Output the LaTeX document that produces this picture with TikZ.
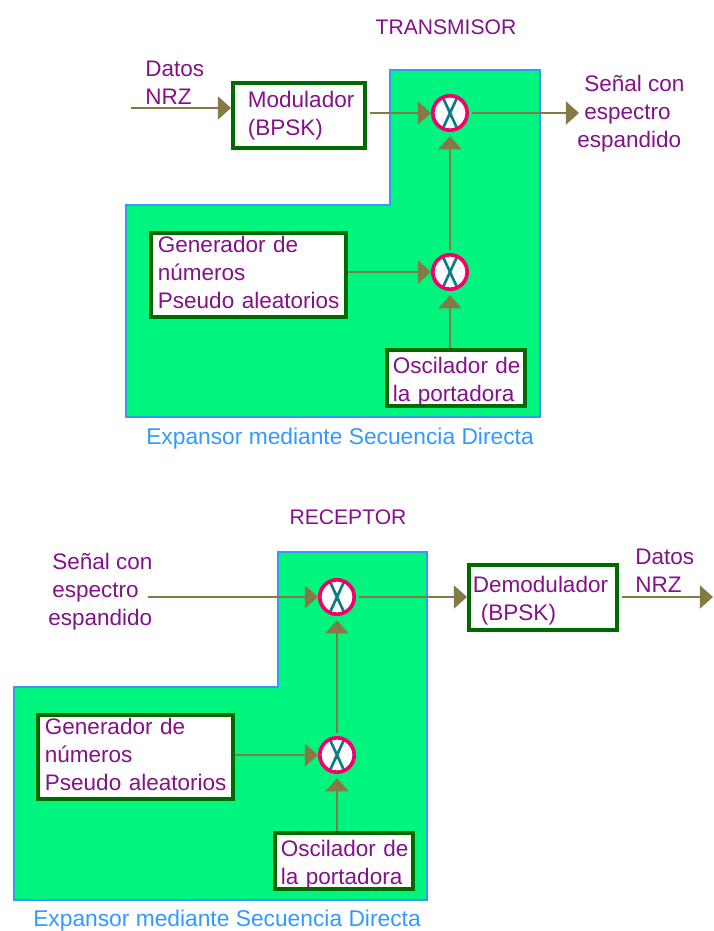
\documentclass[tikz,border=0pt]{standalone}
\usepackage{fontspec}
\setmainfont{Liberation Sans}
\usetikzlibrary{arrows.meta}

\definecolor{relleno}{HTML}{00F57F}
\definecolor{bordeazul}{HTML}{3399FF}
\definecolor{verdecaja}{HTML}{006A00}
\definecolor{rosa}{HTML}{F5006A}
\definecolor{azulx}{HTML}{0E7C80}
\definecolor{flecha}{HTML}{857A45}
\definecolor{texto}{HTML}{84108A}

\newcommand{\bajar}{\rule{0pt}{16.5pt}}
\newcommand{\subir}{\rule[-3.2pt]{0pt}{1pt}}

\tikzset{
  etiqueta/.style={font=\fontsize{16}{19.9}\selectfont, text=texto, align=left, inner sep=0pt},
  pie/.style={etiqueta, font=\fontsize{16.2}{19.9}\selectfont, text=bordeazul},
  caja/.style={etiqueta, rectangle, draw=verdecaja, line width=2.8pt, fill=white, anchor=north west},
  mezclador/.style={circle, draw=rosa, line width=2.6pt, fill=white, minimum size=0.86cm, inner sep=0pt,
    path picture={
      \draw[azulx, line width=1.9pt] ([xshift=-0.175cm,yshift=0.38cm]path picture bounding box.center) -- ([xshift=0.175cm,yshift=-0.38cm]path picture bounding box.center);
      \draw[azulx, line width=1.9pt] ([xshift=0.175cm,yshift=0.38cm]path picture bounding box.center) -- ([xshift=-0.175cm,yshift=-0.38cm]path picture bounding box.center);
    }},
  flujo/.style={draw=flecha, line width=1.4pt, -{Triangle[length=0.33cm,width=0.58cm]}},
  zona/.style={draw=bordeazul, line width=1.2pt, fill=relleno}
}

\begin{document}
\begin{tikzpicture}[x=0.025cm, y=-0.025cm]

\useasboundingbox (0,0) rectangle (713,931);

% Zonas verdes
\draw[zona] (390,70) -- (540,70) -- (540,417) -- (126,417) -- (126,205) -- (390,205) -- cycle;
\draw[zona] (278,552) -- (427,552) -- (427,900) -- (14,900) -- (14,687) -- (278,687) -- cycle;

% Transmisor
\node[etiqueta, font=\fontsize{15}{19}\selectfont] (tituloTx) at (446,27) {TRANSMISOR};
\node[etiqueta, anchor=west] (datosTx) at (145,83) {Datos\\NRZ};
\coordinate (entradaTx) at (131,108);
\node[caja, minimum width=3.3cm, minimum height=1.625cm, inner xsep=0.375cm, text width=2.55cm] (modulador) at (231,81) {\mbox{Modulador}\\(BPSK)};
\node[mezclador] (mezTxA) at (450,113) {};
\node[mezclador] (mezTxB) at (450,272) {};
\node[caja, minimum width=4.875cm, minimum height=2.1cm, inner xsep=0.175cm, text width=4.525cm] (generadorTx) at (149,231) {Generador de\\números\\\mbox{Pseudo aleatorios}\subir};
\node[caja, minimum width=3.45cm, minimum height=1.4cm, inner xsep=0.15cm, text width=3.15cm] (osciladorTx) at (385,348) {\bajar\mbox{Oscilador de}\\la portadora};
\node[etiqueta, anchor=west] (senalTx) at (584,114) {Señal con\\espectro\\\hspace{-0.175cm}espandido};
\coordinate (salidaTx) at (579,113);
\node[pie] (expansorTx) at (340,439) {Expansor mediante Secuencia Directa};

% Receptor
\node[etiqueta, font=\fontsize{15}{19}\selectfont] (tituloRx) at (348,517) {RECEPTOR};
\node[etiqueta, anchor=west] (senalRx) at (52,592) {Señal con\\espectro\\\hspace{-0.1cm}espandido};
\coordinate (entradaRx) at (148,597);
\node[mezclador] (mezRxA) at (337,597) {};
\node[mezclador] (mezRxB) at (337,755) {};
\node[caja, minimum width=3.7cm, minimum height=1.625cm, inner xsep=0.1cm, text width=3.5cm] (demodulador) at (467,563) {\bajar Demodulador\\\hspace{0.2cm}(BPSK)};
\node[etiqueta, anchor=west] (datosRx) at (635,571) {Datos\\NRZ};
\coordinate (salidaRx) at (713,597);
\node[caja, minimum width=4.875cm, minimum height=2.1cm, inner xsep=0.175cm, text width=4.525cm] (generadorRx) at (36,713) {Generador de\\números\\\mbox{Pseudo aleatorios}\subir};
\node[caja, minimum width=3.45cm, minimum height=1.4cm, inner xsep=0.15cm, text width=3.15cm] (osciladorRx) at (273,831) {\bajar\mbox{Oscilador de}\\la portadora};
\node[pie] (expansorRx) at (227,921) {Expansor mediante Secuencia Directa};

% Flechas transmisor
\draw[flujo] (entradaTx) -- (modulador.west |- entradaTx);
\draw[flujo, shorten <=2pt] (modulador.east |- mezTxA) -- (mezTxA);
\draw[flujo, shorten <=2pt, shorten >=3pt] (mezTxB) -- (mezTxA);
\draw[flujo, shorten >=3pt] (mezTxB |- osciladorTx.north) -- (mezTxB);
\draw[flujo] (generadorTx.east |- mezTxB) -- (mezTxB);
\draw[flujo, shorten <=2pt] (mezTxA) -- (salidaTx);

% Flechas receptor
\draw[flujo] (entradaRx) -- (mezRxA);
\draw[flujo, shorten <=2pt, shorten >=3pt] (mezRxB) -- (mezRxA);
\draw[flujo, shorten >=3pt] (mezRxB |- osciladorRx.north) -- (mezRxB);
\draw[flujo] (generadorRx.east |- mezRxB) -- (mezRxB);
\draw[flujo, shorten <=2pt] (mezRxA) -- (demodulador.west |- mezRxA);
\draw[flujo, shorten <=2pt] (demodulador.east |- salidaRx) -- (salidaRx);

\end{tikzpicture}
\end{document}
